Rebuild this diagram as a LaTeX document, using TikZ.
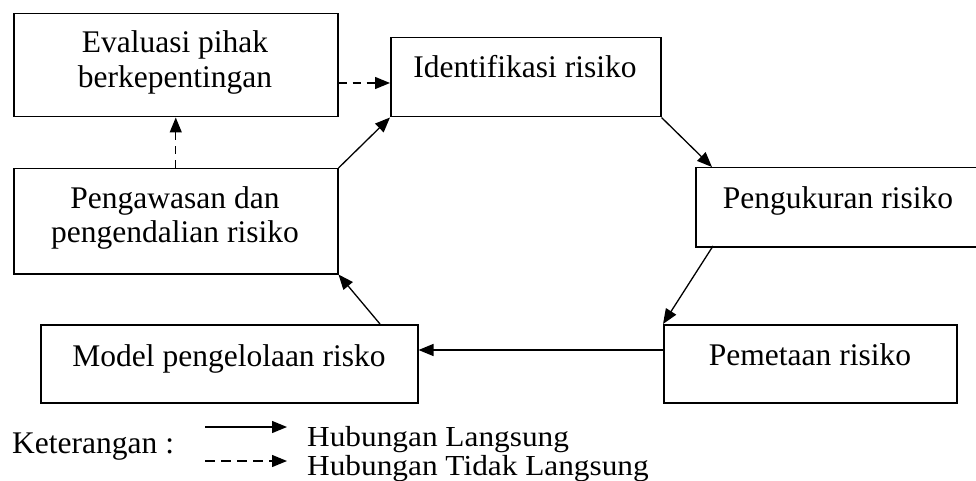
\documentclass[tikz,border=0pt]{standalone}
\usepackage{fontspec}
\setmainfont{Liberation Serif}
\newfontfamily\legfont[FakeStretch=1.08]{Liberation Serif}
\usetikzlibrary{arrows.meta}
\begin{document}
\begin{tikzpicture}[x=1pt,y=-1pt,
  box/.style={draw, line width=1.5pt, inner sep=0pt, anchor=north west},
  txt/.style={anchor=base, inner sep=0pt, font=\fontsize{31.5}{35}\selectfont},
  legtxt/.style={anchor=base west, inner sep=0pt, font=\legfont\fontsize{29}{30}\selectfont},
  conn/.style={line width=1.3pt, -{Triangle[length=15pt,width=12pt]}},
  dconn/.style={conn, dash pattern=on 8pt off 6pt}]
\useasboundingbox (0,0) rectangle (976,481);
\clip (0,0) rectangle (976,481);
% boxes
\node[box, minimum width=324pt, minimum height=103pt] (ev) at (13,13) {};
\node[box, minimum width=270pt, minimum height=79pt] (id) at (390,37) {};
\node[box, minimum width=300pt, minimum height=79pt] (pu) at (695,167) {};
\node[box, minimum width=293pt, minimum height=78pt] (pm) at (663,324) {};
\node[box, minimum width=377pt, minimum height=78pt] (mo) at (40,324) {};
\node[box, minimum width=324pt, minimum height=105pt] (pg) at (13,168) {};
% texts
\node[txt] (evA) at (175,53) {Evaluasi pihak};
\node[txt] (evB) at (175,88) {berkepentingan};
\node[txt] (idA) at (525,78) {Identifikasi risiko};
\node[txt] (puA) at (838,208) {Pengukuran risiko};
\node[txt] (pmA) at (810,365) {Pemetaan risiko};
\node[txt] (moA) at (229,366) {Model pengelolaan risko};
\node[txt] (pgA) at (175,208) {Pengawasan dan};
\node[txt] (pgB) at (175,242) {pengendalian risiko};
% helper coordinates
\coordinate (ya) at (0,83);
\coordinate (yb) at (0,350);
\coordinate (puIn) at (712,167);
\coordinate (puOut) at (713,246);
\coordinate (moOut) at (380,324);
% connectors
\draw[dconn] (ev.east |- ya) -- (id.west |- ya);
\draw[dconn] (pg.north) -- (ev.south);
\draw[conn] (pg.north east) -- (id.south west);
\draw[conn] (id.south east) -- (puIn);
\draw[conn] (puOut) -- (pm.north west);
\draw[conn] (pm.west |- yb) -- (mo.east |- yb);
\draw[conn] (moOut) -- (pg.south east);
% legend
\node[txt, anchor=base west] (ket) at (12,453) {Keterangan :};
\coordinate (l1a) at (205,427);
\coordinate (l1b) at (287,427);
\coordinate (l2a) at (205,461);
\coordinate (l2b) at (287,461);
\draw[conn] (l1a) -- (l1b);
\draw[conn, dash pattern=on 10pt off 6pt] (l2a) -- (l2b);
\node[legtxt] (h1) at (307,446) {Hubungan Langsung};
\node[legtxt] (h2) at (307,475) {Hubungan Tidak Langsung};
\end{tikzpicture}
\end{document}
